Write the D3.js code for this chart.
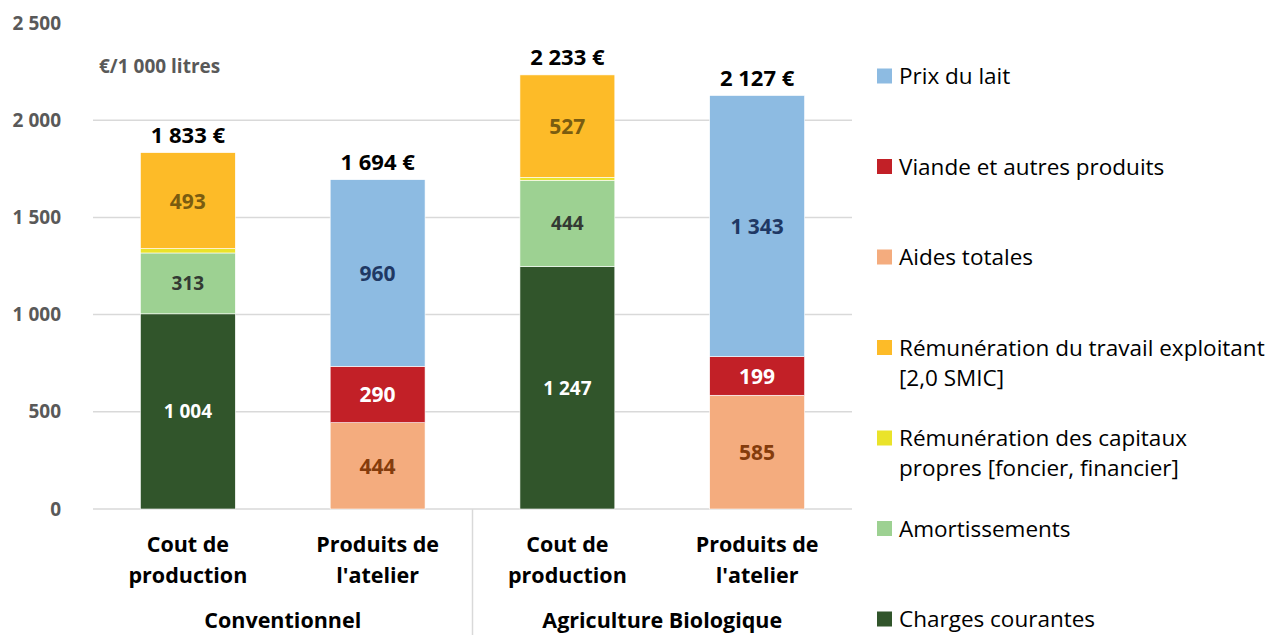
<!DOCTYPE html>
<html lang="fr">
<head>
<meta charset="UTF-8">
<title>Coût de production et produits de l'atelier lait</title>
<script src="https://cdn.jsdelivr.net/npm/d3@7"></script>
<style>
  body { margin: 0; background: #fff; }
  svg { font-family: "Open Sans", Lato, sans-serif; }
</style>
</head>
<body>
<div id="chart"></div>
<script>
// Data (€/1 000 litres)
var categories = ["Cout de production", "Produits de l'atelier", "Cout de production ", "Produits de l'atelier "];
var catLines = [["Cout de", "production"], ["Produits de", "l'atelier"], ["Cout de", "production"], ["Produits de", "l'atelier"]];
var groups = ["Conventionnel", "Agriculture Biologique"];

var charges = [1004, 0, 1247, 0];
var amortissements = [313, 0, 444, 0];
var capitaux = [23, 0, 15, 0];
var travail = [493, 0, 527, 0];
var aides = [0, 444, 0, 585];
var viande = [0, 290, 0, 199];
var prixLait = [0, 960, 0, 1343];

var yTicks = [0, 500, 1000, 1500, 2000, 2500];

// Series, bottom to top in the stack
var series = [
  { key: "charges", name: ["Charges courantes"], values: charges, color: "#31552b", label: "#ffffff" },
  { key: "amort", name: ["Amortissements"], values: amortissements, color: "#9dd192", label: "#333a33" },
  { key: "capitaux", name: ["Rémunération des capitaux", "propres [foncier, financier]"], values: capitaux, color: "#eae32a", label: null },
  { key: "travail", name: ["Rémunération du travail exploitant", "[2,0 SMIC]"], values: travail, color: "#fdbb28", label: "#7a5c10" },
  { key: "aides", name: ["Aides totales"], values: aides, color: "#f4ac7e", label: "#843c0c" },
  { key: "viande", name: ["Viande et autres produits"], values: viande, color: "#c22027", label: "#ffffff" },
  { key: "lait", name: ["Prix du lait"], values: prixLait, color: "#8dbbe2", label: "#1f3864" }
];

var W = 1272, H = 635;
var margin = { top: 23, left: 93, right: 420, bottom: 126 };
var width = W - margin.left - margin.right,
    height = H - margin.top - margin.bottom;

var fr = d3.formatLocale({ decimal: ",", thousands: "\u00a0", grouping: [3], currency: ["", "\u00a0€"] });
var fmt = fr.format(",d");

var svg = d3.select("#chart").append("svg")
  .attr("width", W).attr("height", H);

var g = svg.append("g")
  .attr("transform", "translate(" + margin.left + "," + margin.top + ")");

var x = d3.scaleBand()
  .domain(categories)
  .range([0, width])
  .paddingInner(0.5)
  .paddingOuter(0.25);

var y = d3.scaleLinear()
  .domain([0, 2500])
  .range([height, 0]);

// Gridlines (none at the top value)
g.append("g").selectAll("line")
  .data(yTicks.filter(function(t) { return t < 2500; }))
  .join("line")
  .attr("x1", 0).attr("x2", width)
  .attr("y1", function(d) { return y(d); })
  .attr("y2", function(d) { return y(d); })
  .attr("stroke", "#d9d9d9")
  .attr("stroke-width", 1.5);

// Y axis labels
var yAxis = g.append("g")
  .call(d3.axisLeft(y).tickValues(yTicks).tickFormat(fmt).tickSize(0).tickPadding(32));
yAxis.select(".domain").remove();
yAxis.selectAll("text")
  .attr("fill", "#595959")
  .style("font-family", "'Open Sans', sans-serif")
  .style("font-size", "19px")
  .style("font-weight", "bold");

// Unit label
g.append("text")
  .attr("x", 6).attr("y", y(2280) + 7)
  .attr("fill", "#595959")
  .style("font-size", "19px")
  .style("font-weight", "bold")
  .text("€/1 000 litres");

// Stack
var rows = categories.map(function(c, i) {
  var r = { cat: c };
  series.forEach(function(s) { r[s.key] = s.values[i]; });
  return r;
});
var stack = d3.stack().keys(series.map(function(s) { return s.key; }))(rows);

var layers = g.append("g").selectAll("g")
  .data(stack)
  .join("g")
  .attr("fill", function(d, i) { return series[i].color; });

layers.selectAll("rect")
  .data(function(d) { return d.filter(function(p) { return p[1] > p[0]; }); })
  .join("rect")
  .attr("x", function(d) { return x(d.data.cat); })
  .attr("y", function(d) { return y(d[1]); })
  .attr("width", x.bandwidth())
  .attr("height", function(d) { return y(d[0]) - y(d[1]); })
  .attr("stroke", "#ffffff")
  .attr("stroke-width", 0.6);

// Segment labels
stack.forEach(function(layer, i) {
  var s = series[i];
  if (!s.label) return;
  var small = (s.key === "charges" || s.key === "amort");
  g.append("g").selectAll("text")
    .data(layer.filter(function(p) { return p[1] > p[0]; }))
    .join("text")
    .attr("x", function(d) { return x(d.data.cat) + x.bandwidth() / 2; })
    .attr("y", function(d) { return (y(d[0]) + y(d[1])) / 2 + (small ? 7 : 8); })
    .attr("text-anchor", "middle")
    .attr("fill", s.label)
    .style("font-size", small ? "19px" : "21px")
    .style("font-weight", "bold")
    .text(function(d) { return fmt(d[1] - d[0]); });
});

// Totals
var totals = rows.map(function(r) {
  return d3.sum(series, function(s) { return r[s.key]; });
});
g.append("g").selectAll("text")
  .data(categories)
  .join("text")
  .attr("x", function(d) { return x(d) + x.bandwidth() / 2; })
  .attr("y", function(d, i) { return y(totals[i]) - 10; })
  .attr("text-anchor", "middle")
  .attr("fill", "#000")
  .style("font-size", "22px")
  .style("font-weight", "bold")
  .text(function(d, i) { return fmt(totals[i]) + " €"; });

// Category labels
var catG = g.append("g").selectAll("text")
  .data(categories)
  .join("text")
  .attr("text-anchor", "middle")
  .attr("fill", "#000")
  .style("font-size", "21.5px")
  .style("font-weight", "bold");
catG.selectAll("tspan")
  .data(function(d, i) { return catLines[i].map(function(t, k) { return { t: t, k: k, c: d }; }); })
  .join("tspan")
  .attr("x", function(d) { return x(d.c) + x.bandwidth() / 2; })
  .attr("y", function(d) { return height + 43 + d.k * 31; })
  .text(function(d) { return d.t; });

// Group labels and divider
g.append("g").selectAll("text")
  .data(groups)
  .join("text")
  .attr("x", function(d, i) {
    var a = x(categories[i * 2]), b = x(categories[i * 2 + 1]) + x.bandwidth();
    return (a + b) / 2;
  })
  .attr("y", height + 119)
  .attr("text-anchor", "middle")
  .attr("fill", "#000")
  .style("font-size", "21.5px")
  .style("font-weight", "bold")
  .text(function(d) { return d; });

var divX = (x(categories[1]) + x.bandwidth() + x(categories[2])) / 2;
g.append("line")
  .attr("x1", divX).attr("x2", divX)
  .attr("y1", height).attr("y2", H - margin.top)
  .attr("stroke", "#d9d9d9")
  .attr("stroke-width", 1.5);

// Legend (top to bottom = reverse stack order)
var legend = svg.append("g")
  .attr("transform", "translate(877,0)");
var legendItems = series.slice().reverse();
var item = legend.selectAll("g")
  .data(legendItems)
  .join("g")
  .attr("transform", function(d, i) { return "translate(0," + (76 + i * 90.5) + ")"; });
item.append("rect")
  .attr("x", 0).attr("y", -7.5)
  .attr("width", 15).attr("height", 15)
  .attr("fill", function(d) { return d.color; });
item.append("text")
  .attr("fill", "#000")
  .style("font-size", "22.5px")
  .selectAll("tspan")
  .data(function(d) { return d.name; })
  .join("tspan")
  .attr("x", 22)
  .attr("y", function(d, k) { return 8 + k * 30; })
  .text(function(d) { return d; });
</script>
</body>
</html>
